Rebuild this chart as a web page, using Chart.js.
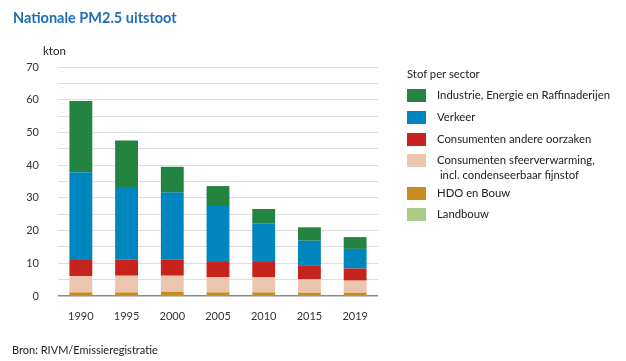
<!DOCTYPE html>
<html>
<head>
<meta charset="utf-8">
<script src="https://cdn.jsdelivr.net/npm/chart.js@4.4.1/dist/chart.umd.min.js"></script>
<style>
  body { margin: 0; background: #fff; font-family: Lato, sans-serif; }
  #wrap { position: relative; width: 626px; height: 361px; }
  #pmChart { position: absolute; left: 0; top: 0; }
  .title { position: absolute; left: 13px; top: 9px; font-size: 14.5px; font-weight: bold; color: #1f6db3; }
  .unit { position: absolute; left: 43px; top: 44px; font-size: 11.5px; color: #222; }
  .source { position: absolute; left: 12px; top: 343px; font-size: 11px; color: #222; }
  #legend { position: absolute; left: 407px; top: 66px; font-size: 11.3px; color: #222; }
  #legend .lt { line-height: 16px; margin-bottom: 7px; }
  #legend .row { display: flex; align-items: flex-start; margin-bottom: 8.5px; }
  #legend .sw { width: 19px; height: 13px; margin-right: 11px; flex: none; }
  #legend .txt { line-height: 14.3px; margin-top: -1px; }
</style>
</head>
<body>
<div id="wrap">
  <canvas id="pmChart" width="626" height="361"></canvas>
  <div class="title">Nationale PM2.5 uitstoot</div>
  <div class="unit">kton</div>
  <div id="legend"></div>
  <div class="source">Bron: RIVM/Emissieregistratie</div>
</div>
<script>
  // categories (years)
  const years = ['1990', '1995', '2000', '2005', '2010', '2015', '2019'];

  // series values in kton, bottom of the stack first
  const landbouw = [0.3, 0.3, 0.3, 0.3, 0.3, 0.3, 0.3];
  const hdoBouw = [0.8, 0.8, 1.0, 0.8, 0.8, 0.7, 0.7];
  const sfeerverwarming = [5.0, 5.1, 4.9, 4.7, 4.6, 4.1, 3.7];
  const consumentenAnder = [4.9, 4.9, 4.9, 4.6, 4.7, 4.1, 3.7];
  const verkeer = [26.8, 22.2, 20.5, 17.1, 11.7, 7.7, 6.0];
  const industrie = [21.8, 14.2, 7.9, 6.1, 4.5, 4.1, 3.6];

  // y axis
  const yMax = 70;
  const yStep = 5;
  const yLabelStep = 10;

  const legendTitle = 'Stof per sector';

  // datasets in stacking order (bottom to top)
  const series = [
    { label: ['Landbouw'], data: landbouw, color: '#a9cb87' },
    { label: ['HDO en Bouw'], data: hdoBouw, color: '#c98a1e' },
    { label: ['Consumenten sfeerverwarming,', '\u00a0incl. condenseerbaar fijnstof'], data: sfeerverwarming, color: '#ecc5af' },
    { label: ['Consumenten andere oorzaken'], data: consumentenAnder, color: '#c5231c' },
    { label: ['Verkeer'], data: verkeer, color: '#0086bf' },
    { label: ['Industrie, Energie en Raffinaderijen'], data: industrie, color: '#238341' },
  ];

  // Build the legend (top item is the top of the stack)
  function buildLegend() {
    const legend = document.getElementById('legend');
    const t = document.createElement('div');
    t.className = 'lt';
    t.textContent = legendTitle;
    legend.appendChild(t);
    series.slice().reverse().forEach(s => {
      const row = document.createElement('div');
      row.className = 'row';
      if (s.label.length > 1) row.style.marginBottom = '4.6px';
      const sw = document.createElement('div');
      sw.className = 'sw';
      sw.style.background = s.color;
      const txt = document.createElement('div');
      txt.className = 'txt';
      txt.innerHTML = s.label.join('<br>');
      row.appendChild(sw);
      row.appendChild(txt);
      legend.appendChild(row);
    });
  }

  function createChart() {
    const ctx = document.getElementById('pmChart').getContext('2d');
    new Chart(ctx, {
      type: 'bar',
      data: {
        labels: years,
        datasets: series.map(s => ({
          label: s.label.join(' '),
          data: s.data,
          backgroundColor: s.color,
          borderWidth: 0,
          barPercentage: 0.5,
          categoryPercentage: 1.0,
        })),
      },
      options: {
        responsive: false,
        animation: false,
        layout: { padding: { left: 0, right: 248, top: 67, bottom: 0 } },
        plugins: {
          legend: { display: false },
          tooltip: { enabled: false },
        },
        scales: {
          x: {
            stacked: true,
            grid: { display: false },
            border: { display: false },
            ticks: { color: '#333', padding: 6, font: { family: 'Lato', size: 11 } },
            afterFit: scale => { scale.height = 65; },
          },
          y: {
            stacked: true,
            min: 0,
            max: yMax,
            border: { display: false },
            grid: {
              drawTicks: false,
              color: c => (c.tick.value === 0 ? '#8a8a8a' : '#dedede'),
              lineWidth: c => (c.tick.value === 0 ? 1.5 : 1),
            },
            ticks: {
              stepSize: yStep,
              padding: 19,
              color: '#333',
              font: { family: 'Lato', size: 11 },
              callback: v => (v % yLabelStep === 0 ? v : ''),
            },
            afterFit: scale => { scale.width = 58; },
          },
        },
      },
    });
  }

  document.addEventListener('DOMContentLoaded', () => {
    buildLegend();
    createChart();
  });
</script>
</body>
</html>
